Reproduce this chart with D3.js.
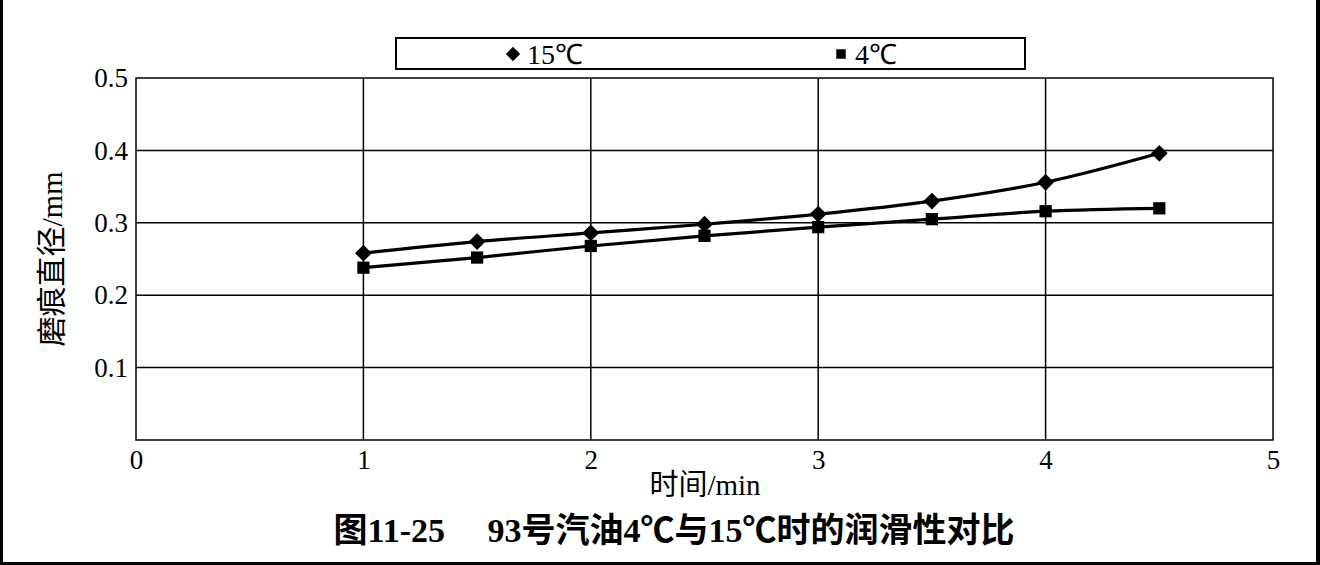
<!DOCTYPE html>
<html><head><meta charset="utf-8">
<script src="https://cdn.jsdelivr.net/npm/d3@7"></script>
<style>html,body{margin:0;padding:0;background:#fff;}svg{display:block;}</style>
</head><body>
<svg id="c" width="1320" height="565"></svg>
<script>
const times = [1, 1.5, 2, 2.5, 3, 3.5, 4, 4.5];
const s15 = [0.258, 0.274, 0.286, 0.298, 0.312, 0.330, 0.356, 0.396];
const s4 = [0.238, 0.252, 0.268, 0.282, 0.294, 0.305, 0.316, 0.320];
const seriesNames = ["15℃", "4℃"];
const xTicks = [0, 1, 2, 3, 4, 5];
const yTicks = [0.1, 0.2, 0.3, 0.4, 0.5];
const xTitle = "时间/min";
const yTitle = "磨痕直径/mm";
const caption = "图11-25　 93号汽油4℃与15℃时的润滑性对比";

const svg = d3.select("#c");
const serif = "'Liberation Serif','Times New Roman',serif";
const cjk = "'Liberation Serif','Noto Sans CJK SC',serif";
const L = 136, R = 1273, T = 78, B = 440;
const x = d3.scaleLinear().domain([0, 5]).range([L, R]);
const y = d3.scaleLinear().domain([0, 0.5]).range([B, T]);

// outer border (left, right, bottom)
svg.append("rect").attr("x",0).attr("y",0).attr("width",3).attr("height",565).attr("fill","#000");
svg.append("rect").attr("x",1316).attr("y",0).attr("width",4).attr("height",565).attr("fill","#000");
svg.append("rect").attr("x",0).attr("y",562).attr("width",1320).attr("height",3).attr("fill","#000");

// gridlines
const g = svg.append("g");
g.selectAll(".vg").data(xTicks.filter(d=>d>0&&d<5)).enter().append("line")
  .attr("x1",d=>x(d)).attr("x2",d=>x(d)).attr("y1",T).attr("y2",B)
  .attr("stroke","#000").attr("stroke-width",1.5);
g.selectAll(".hg").data(yTicks.filter(d=>d<0.5)).enter().append("line")
  .attr("x1",L).attr("x2",R).attr("y1",d=>y(d)).attr("y2",d=>y(d))
  .attr("stroke","#000").attr("stroke-width",1.5);
g.append("rect").attr("x",L).attr("y",T).attr("width",R-L).attr("height",B-T)
  .attr("fill","none").attr("stroke","#000").attr("stroke-width",1.5);

// axes labels
const xa = svg.append("g").attr("transform",`translate(0,${B})`)
  .call(d3.axisBottom(x).tickValues(xTicks).tickSize(0).tickFormat(d3.format("d")));
xa.select(".domain").remove();
xa.selectAll("text").attr("font-family",serif).attr("font-size",27).attr("fill","#000")
  .attr("y",29).attr("dy","0");
const ya = svg.append("g").attr("transform",`translate(${L},0)`)
  .call(d3.axisLeft(y).tickValues(yTicks).tickSize(0).tickPadding(8).tickFormat(d3.format(".1f")));
ya.select(".domain").remove();
ya.selectAll("text").attr("font-family",serif).attr("font-size",27).attr("fill","#000");

svg.append("text").attr("x",705).attr("y",495).attr("text-anchor","middle")
  .attr("font-family",cjk).attr("font-size",29).text(xTitle);
svg.append("text").attr("transform","translate(62,259) rotate(-90)").attr("text-anchor","middle")
  .attr("font-family",cjk).attr("font-size",30).text(yTitle);
svg.append("text").attr("x",674).attr("y",542).attr("text-anchor","middle")
  .attr("font-family","'Liberation Serif','Noto Sans CJK SC',serif").attr("font-weight","bold")
  .attr("font-size",34).text(caption);

// lines
const line = d3.line().x((d,i)=>x(times[i])).y(d=>y(d)).curve(d3.curveMonotoneX);
[s15, s4].forEach(s => {
  svg.append("path").attr("d", line(s)).attr("fill","none").attr("stroke","#000").attr("stroke-width",3.2);
});
const dia = d3.symbol().type(d3.symbolDiamond2).size(180);
const sq = d3.symbol().type(d3.symbolSquare).size(150);
svg.selectAll(".m15").data(s15).enter().append("path")
  .attr("d", dia).attr("transform",(d,i)=>`translate(${x(times[i])},${y(d)})`).attr("fill","#000");
svg.selectAll(".m4").data(s4).enter().append("path")
  .attr("d", sq).attr("transform",(d,i)=>`translate(${x(times[i])},${y(d)})`).attr("fill","#000");

// legend
svg.append("rect").attr("x",396).attr("y",38).attr("width",629).attr("height",31)
  .attr("fill","#fff").attr("stroke","#000").attr("stroke-width",2);
const leg = [{name:seriesNames[0], sym:d3.symbol().type(d3.symbolDiamond2).size(130), x:513},
             {name:seriesNames[1], sym:d3.symbol().type(d3.symbolSquare).size(90), x:841}];
leg.forEach(l => {
  svg.append("path").attr("d", l.sym).attr("transform",`translate(${l.x},54)`).attr("fill","#000");
  svg.append("text").attr("x", l.x+14).attr("y", 64).attr("font-family",serif)
    .attr("font-size",28).attr("fill","#000").text(l.name);
});
</script>
</body></html>
